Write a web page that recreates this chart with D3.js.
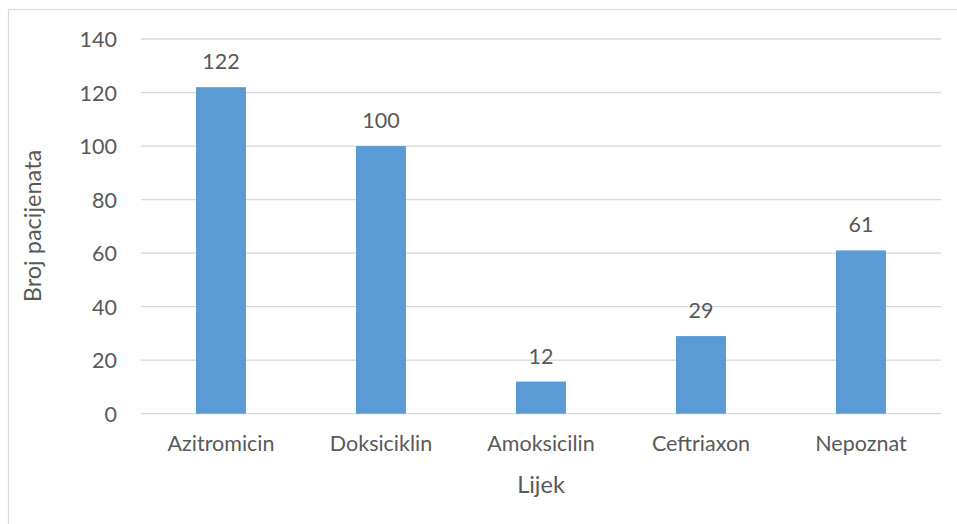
<!DOCTYPE html>
<html>
<head>
<meta charset="utf-8">
<script src="https://cdn.jsdelivr.net/npm/d3@7"></script>
<style>
  html, body { margin: 0; padding: 0; background: #fff; }
  svg text { font-family: Lato, "Open Sans", sans-serif; fill: #595959; }
</style>
</head>
<body>
<div id="chart"></div>
<script>
const categories = ['Azitromicin', 'Doksiciklin', 'Amoksicilin', 'Ceftriaxon', 'Nepoznat'];
const values = [122, 100, 12, 29, 61];
const yTicks = [0, 20, 40, 60, 80, 100, 120, 140];

let width = 957, height = 524;
let margin = { left: 141, right: 16, top: 39, bottom: 110 };
let labelSize = '21.5px', titleSize = '23.5px';

let svg = d3.select('#chart')
  .append('svg')
  .attr('width', width)
  .attr('height', height);

// chart frame
svg.append('rect')
  .attr('x', 8.5).attr('y', 9.5)
  .attr('width', width).attr('height', height)
  .attr('fill', 'none')
  .attr('stroke', '#d9d9d9')
  .attr('stroke-width', 1.2);

let x = d3.scaleBand()
  .domain(categories)
  .range([margin.left, width - margin.right])
  .paddingInner(110 / 160)
  .paddingOuter(55 / 160);

let y = d3.scaleLinear()
  .domain([0, 140])
  .range([413.7, margin.top]);

/* Gridlines */
svg.append('g')
  .selectAll('line')
  .data(yTicks)
  .enter().append('line')
  .attr('x1', margin.left)
  .attr('x2', width - margin.right)
  .attr('y1', d => y(d))
  .attr('y2', d => y(d))
  .attr('stroke', '#d9d9d9')
  .attr('stroke-width', 1.3);

/* Y axis labels */
let yAxis = d3.axisLeft(y).tickValues(yTicks).tickSize(0).tickPadding(24);
let yg = svg.append('g')
  .attr('transform', 'translate(' + margin.left + ',0)')
  .call(yAxis);
yg.select('.domain').remove();
yg.selectAll('text')
  .style('font-size', labelSize)
  .attr('dy', '0.35em');

/* Bars */
svg.append('g')
  .selectAll('rect')
  .data(values)
  .enter().append('rect')
  .attr('x', (d, i) => x(categories[i]))
  .attr('y', d => y(d))
  .attr('width', x.bandwidth())
  .attr('height', d => y(0) - y(d))
  .attr('fill', '#5b9bd5');

/* Data labels */
svg.append('g')
  .selectAll('text')
  .data(values)
  .enter().append('text')
  .attr('x', (d, i) => x(categories[i]) + x.bandwidth() / 2)
  .attr('y', d => y(d) - 18)
  .attr('text-anchor', 'middle')
  .style('font-size', labelSize)
  .text(d => d);

/* X axis labels */
let xAxis = d3.axisBottom(x).tickSize(0).tickPadding(22);
let xg = svg.append('g')
  .attr('transform', 'translate(0,' + y(0) + ')')
  .call(xAxis);
xg.select('.domain').remove();
xg.selectAll('text').style('font-size', labelSize);

/* Axis titles */
svg.append('text')
  .attr('x', (margin.left + width - margin.right) / 2)
  .attr('y', 493)
  .attr('text-anchor', 'middle')
  .style('font-size', titleSize)
  .text('Lijek');

svg.append('text')
  .attr('transform', 'translate(41,' + 226 + ') rotate(-90)')
  .attr('text-anchor', 'middle')
  .style('font-size', titleSize)
  .text('Broj pacijenata');
</script>
</body>
</html>
